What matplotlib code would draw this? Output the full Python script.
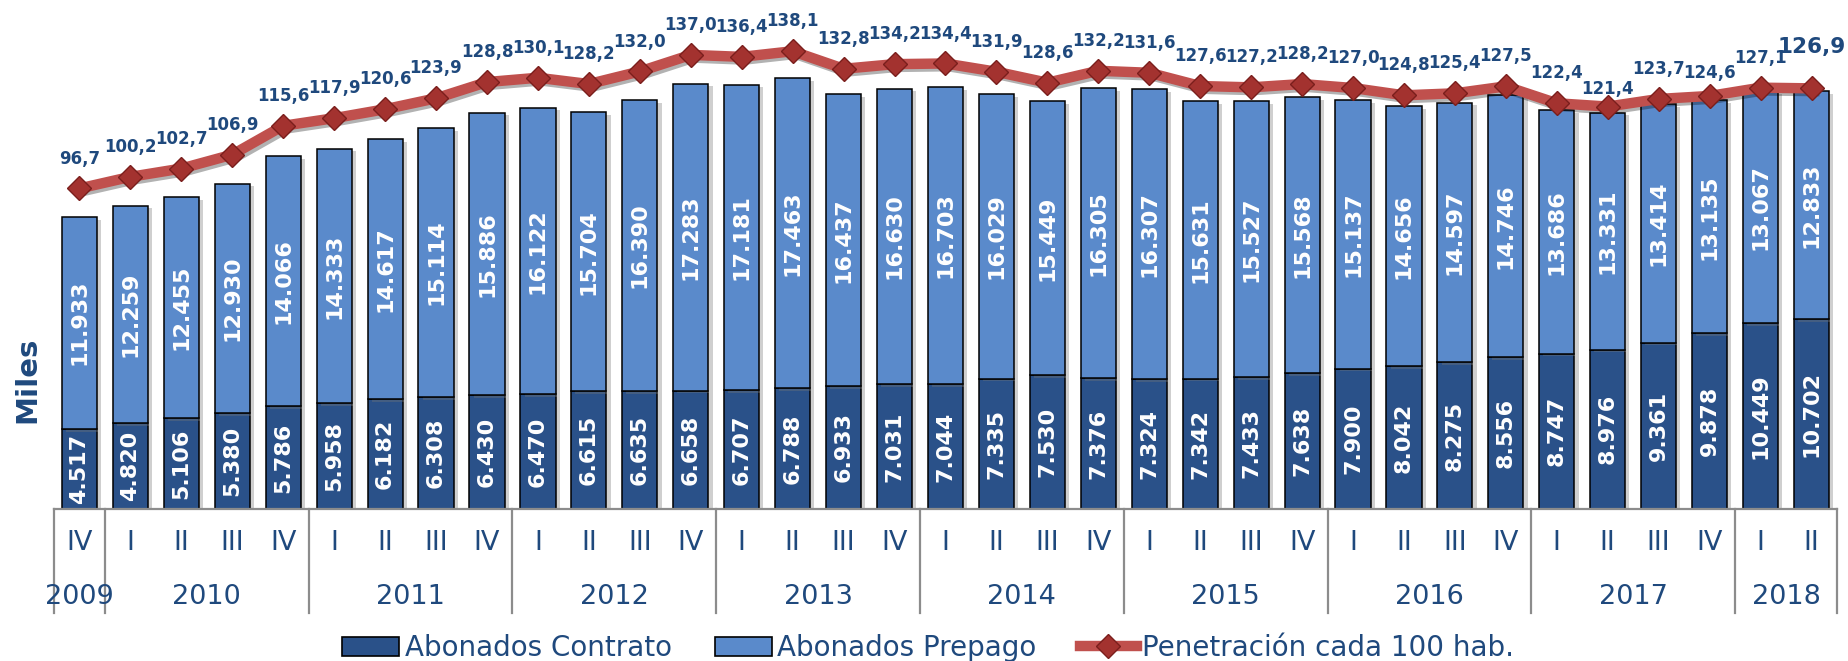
import matplotlib
matplotlib.use('Agg')
import matplotlib.pyplot as plt
import matplotlib.patheffects as pe
from matplotlib.transforms import blended_transform_factory
from matplotlib.lines import Line2D
from matplotlib.patches import Patch

# data (miles de abonados, penetracion cada 100 hab.)
quarters = ['IV',
            'I', 'II', 'III', 'IV', 'I', 'II', 'III', 'IV', 'I', 'II', 'III', 'IV',
            'I', 'II', 'III', 'IV', 'I', 'II', 'III', 'IV', 'I', 'II', 'III', 'IV',
            'I', 'II', 'III', 'IV', 'I', 'II', 'III', 'IV',
            'I', 'II']
years = ['2009', '2010', '2011', '2012', '2013', '2014', '2015', '2016', '2017', '2018']
quarters_per_year = [1, 4, 4, 4, 4, 4, 4, 4, 4, 2]

contrato = [4517, 4820, 5106, 5380, 5786, 5958, 6182, 6308, 6430, 6470, 6615, 6635,
            6658, 6707, 6788, 6933, 7031, 7044, 7335, 7530, 7376, 7324, 7342, 7433,
            7638, 7900, 8042, 8275, 8556, 8747, 8976, 9361, 9878, 10449, 10702]
prepago = [11933, 12259, 12455, 12930, 14066, 14333, 14617, 15114, 15886, 16122, 15704, 16390,
           17283, 17181, 17463, 16437, 16630, 16703, 16029, 15449, 16305, 16307, 15631, 15527,
           15568, 15137, 14656, 14597, 14746, 13686, 13331, 13414, 13135, 13067, 12833]
penetracion = [96.7, 100.2, 102.7, 106.9, 115.6, 117.9, 120.6, 123.9, 128.8, 130.1, 128.2, 132.0,
               137.0, 136.4, 138.1, 132.8, 134.2, 134.4, 131.9, 128.6, 132.2, 131.6, 127.6, 127.2,
               128.2, 127.0, 124.8, 125.4, 127.5, 122.4, 121.4, 123.7, 124.6, 127.1, 126.9]

c_contrato = '#2A5189'
c_prepago = '#5A8ACB'
c_linea = '#C0504D'
c_texto = '#1F497D'

fig = plt.figure(figsize=(18.49, 6.61), dpi=100)
ax = fig.add_axes([0.0292, 0.2300, 0.9643, 0.7216])
ax2 = ax.twinx()

x = list(range(len(quarters)))
shadow = [pe.SimplePatchShadow(offset=(3, -2), shadow_rgbFace='#777777', alpha=0.35), pe.Normal()]
b1 = ax.bar(x, contrato, width=0.69, color=c_contrato, edgecolor='black', linewidth=1.1, zorder=2)
b2 = ax.bar(x, prepago, bottom=contrato, width=0.69, color=c_prepago, edgecolor='black',
            linewidth=1.1, zorder=2)
for b in list(b1) + list(b2):
    b.set_path_effects(shadow)

def fmt_miles(v):
    return '{:,}'.format(v).replace(',', '.')

for i in x:
    ax.text(i, contrato[i] / 2, fmt_miles(contrato[i]), rotation=90, ha='center', va='center',
            color='white', fontsize=16, fontweight='bold', zorder=3)
    ax.text(i, contrato[i] + prepago[i] / 2, fmt_miles(prepago[i]), rotation=90, ha='center',
            va='center', color='white', fontsize=16, fontweight='bold', zorder=3)

ax.set_xlim(-0.5, len(x) - 0.5)
ax.set_ylim(0, 26850)
ax2.set_ylim(0, 143.9)

ax2.plot(x, penetracion, color=c_linea, lw=7.5, solid_joinstyle='miter', zorder=4,
         path_effects=[pe.SimpleLineShadow(offset=(2, -2), alpha=0.3), pe.Normal()])
ax2.plot(x, penetracion, ls='none', marker='D', markersize=12.5, markerfacecolor='#A3322F',
         markeredgecolor='#7A1E1C', markeredgewidth=1, zorder=5)

# offsets of the line labels (points above the marker)
lab_off = {30: 13, 32: 16.5}
for i, v in enumerate(penetracion):
    last = i == len(penetracion) - 1
    off = 30 if last else lab_off.get(i, 21.5)
    ax2.annotate('{:.1f}'.format(v).replace('.', ','), (i, v), xytext=(0, off),
                 textcoords='offset points', ha='center', va='center', color=c_texto,
                 fontsize=15.5 if last else 12, fontweight='bold', annotation_clip=False)

for a in (ax, ax2):
    a.set_yticks([])
    a.set_xticks([])
    for s in ('left', 'right', 'top'):
        a.spines[s].set_visible(False)
ax2.spines['bottom'].set_visible(False)
ax.spines['bottom'].set_color('#8C8C8C')
ax.spines['bottom'].set_linewidth(1.6)

# category axis: quarters, years, separators
tr = blended_transform_factory(ax.transData, ax.transAxes)
for i, q in enumerate(quarters):
    ax.annotate(q, (i, 0), xycoords=tr, xytext=(0, -24.5), textcoords='offset points',
                ha='center', va='center', fontsize=19.5, color=c_texto, annotation_clip=False)

start = 0
sep = [-0.5]
for y, n in zip(years, quarters_per_year):
    ax.annotate(y, (start + (n - 1) / 2, 0), xycoords=tr, xytext=(0, -63.5),
                textcoords='offset points', ha='center', va='center', fontsize=19.5,
                color=c_texto, annotation_clip=False)
    start += n
    sep.append(start - 0.5)
for s in sep:
    ax.add_line(Line2D([s, s], [0, -0.218], transform=tr, color='#8C8C8C', lw=1.6, clip_on=False))

fig.text(27 / 1849, 1 - 380 / 661, 'Miles', rotation=90, ha='center', va='center',
         fontsize=21, fontweight='bold', color=c_texto)

handles = [Patch(facecolor=c_contrato, edgecolor='black', linewidth=1.2),
           Patch(facecolor=c_prepago, edgecolor='black', linewidth=1.2),
           Line2D([], [], color=c_linea, lw=7.5, marker='D', markersize=12.5,
                  markerfacecolor='#A3322F', markeredgecolor='#7A1E1C')]
leg = fig.legend(handles, ['Abonados Contrato', 'Abonados Prepago', 'Penetración cada 100 hab.'],
                 loc='center', bbox_to_anchor=(0.502, 1 - 648 / 661), ncol=3, frameon=False,
                 fontsize=20, handlelength=2.05, handleheight=0.65, handletextpad=0.2,
                 columnspacing=1.55, borderpad=0, borderaxespad=0)
for t in leg.get_texts():
    t.set_color(c_texto)

fig.savefig('out.png', dpi=100)
